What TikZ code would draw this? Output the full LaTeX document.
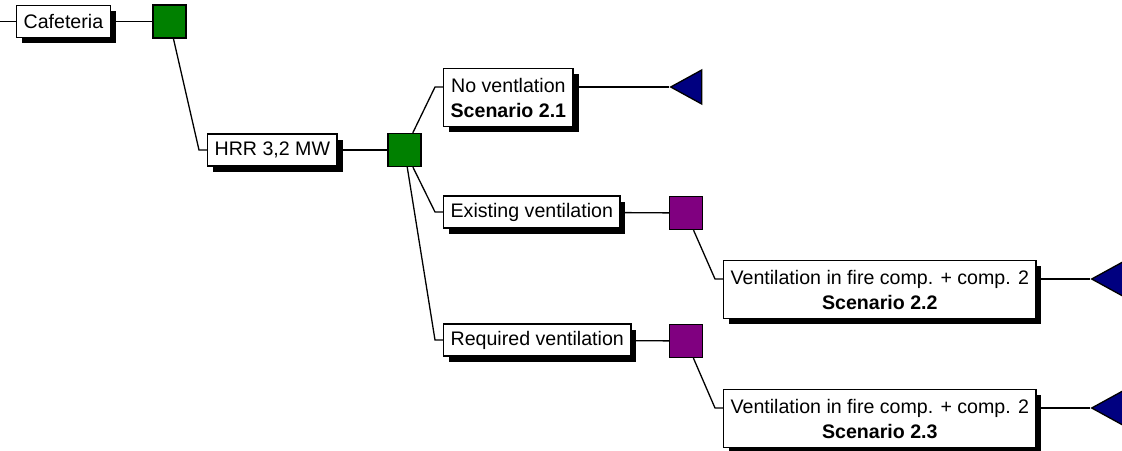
\documentclass[tikz,border=0pt]{standalone}
\usepackage{fontspec}
\setmainfont{Liberation Sans}
\usetikzlibrary{shadows,shapes.geometric}
\definecolor{verde}{RGB}{0,128,0}
\definecolor{morado}{RGB}{128,0,128}
\definecolor{azul}{RGB}{0,0,128}

\begin{document}
\begin{tikzpicture}[
    x=1pt, y=-1pt, line width=1.3pt,
    every node/.style={font=\fontsize{19.6}{25}\selectfont},
    caja/.style={draw, fill=white, inner xsep=7pt, inner ysep=0pt,
        minimum height=32pt, drop shadow={shadow xshift=5.5pt,
        shadow yshift=-5.5pt, fill=black, opacity=1}},
    caja2/.style={caja, align=center, minimum height=58pt, anchor=north west},
    cuadro/.style={draw, minimum size=33pt, inner sep=0pt},
    fin/.style={isosceles triangle, shape border rotate=180,
        isosceles triangle stretches, minimum width=34pt, minimum height=31pt,
        inner sep=0pt, draw, fill=azul, anchor=apex}]
    \useasboundingbox (0,0) rectangle (1122,450);

    % Nodos del árbol.
    \coordinate (inicio) at (0,21.5);
    \node[caja, anchor=west] (caf) at (16,21.5) {Cafeteria};
    \node[cuadro, fill=verde] (d1) at (169.5,21.5) {};
    \node[caja, anchor=west] (hrr) at (207,150) {HRR 3,2 MW};
    \node[cuadro, fill=verde] (d2) at (404.5,150) {};
    \node[caja2] (s21) at (443,68) {No ventlation\\\textbf{Scenario 2.1}};
    \node[caja, anchor=west] (exist) at (443,212) {Existing ventilation};
    \node[cuadro, fill=morado] (p1) at (686,213) {};
    \node[caja, anchor=west] (req) at (443,340) {Required ventilation};
    \node[cuadro, fill=morado] (p2) at (686,341) {};
    \node[caja2] (s22) at (723,260)
        {Ventilation in fire comp. + comp. 2\\\textbf{Scenario 2.2}};
    \node[caja2] (s23) at (723,389)
        {Ventilation in fire comp. + comp. 2\\\textbf{Scenario 2.3}};

    % Nodos terminales.
    \node[fin] (t21) at (669,87) {};
    \node[fin] (t22) at (1090,279) {};
    \node[fin] (t23) at (1090,408) {};

    % Ramas.
    \draw (inicio) -- (caf);
    \draw (caf) -- (d1);
    \draw (d1) -- ([xshift=-8pt]hrr.west) -- (hrr.west);
    \draw (hrr) -- (d2);
    \draw (d2) -- ([xshift=-8pt,yshift=-19pt]s21.north west)
        -- ([yshift=-19pt]s21.north west);
    \draw ([yshift=-19pt]s21.north east) -- (t21);
    \draw (d2) -- ([xshift=-8pt]exist.west) -- (exist.west);
    \draw (exist) -- (p1);
    \draw (d2) -- ([xshift=-8pt]req.west) -- (req.west);
    \draw (req) -- (p2);
    \draw (p1) -- ([xshift=-8pt,yshift=-19pt]s22.north west)
        -- ([yshift=-19pt]s22.north west);
    \draw ([yshift=-19pt]s22.north east) -- (t22);
    \draw (p2) -- ([xshift=-8pt,yshift=-19pt]s23.north west)
        -- ([yshift=-19pt]s23.north west);
    \draw ([yshift=-19pt]s23.north east) -- (t23);
\end{tikzpicture}
\end{document}
